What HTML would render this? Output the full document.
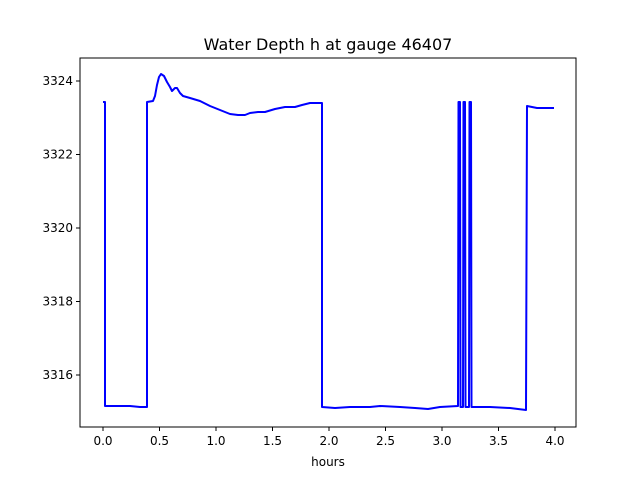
<!DOCTYPE html>
<html><head><meta charset="utf-8"><style>body{margin:0;background:#fff}</style></head><body>
<svg width="640" height="480" xmlns="http://www.w3.org/2000/svg" font-family="DejaVu Sans, Liberation Sans, sans-serif">
<rect width="640" height="480" fill="#fff"/>
<text x="328" y="50" font-size="16" text-anchor="middle">Water Depth h at gauge 46407</text>
<polyline fill="none" stroke="#0000ff" stroke-width="2" stroke-linejoin="round" points="103,102 105,102 105,406 130,406 140,407 147,407 147,102 153,101 155,96 157,85 159,77 161,74 164,76 167,82 170,87 172,91 175,88 177,88 180,93 183,96 190,98 200,101 210,106 220,110 230,114 238,115 245,115 250,113 258,112 265,112 275,109 285,107 295,107 302,105 310,103 318,103 322,103 322,407 335,408 350,407 370,407 380,406 400,407 415,408 428,409 440,407 458,406 458.5,102 460,102 460.5,407 463,407 463.5,102 465,102 465.5,407 469,407 469.5,102 471,102 471.5,407 490,407 510,408 526,410 527,106 537,108 554,108"/>
<rect x="80" y="58" width="496" height="369" fill="none" stroke="#000" stroke-width="1"/>
<g stroke="#000" stroke-width="1">
<line x1="103" y1="427" x2="103" y2="431"/><line x1="159.5" y1="427" x2="159.5" y2="431"/><line x1="216" y1="427" x2="216" y2="431"/><line x1="272.5" y1="427" x2="272.5" y2="431"/><line x1="329" y1="427" x2="329" y2="431"/><line x1="385.5" y1="427" x2="385.5" y2="431"/><line x1="442" y1="427" x2="442" y2="431"/><line x1="498.5" y1="427" x2="498.5" y2="431"/><line x1="555" y1="427" x2="555" y2="431"/>
<line x1="76" y1="81" x2="80" y2="81"/><line x1="76" y1="154.5" x2="80" y2="154.5"/><line x1="76" y1="228" x2="80" y2="228"/><line x1="76" y1="301.5" x2="80" y2="301.5"/><line x1="76" y1="375" x2="80" y2="375"/>
</g>
<g font-size="12" text-anchor="middle">
<text x="103" y="445">0.0</text><text x="159.5" y="445">0.5</text><text x="216" y="445">1.0</text><text x="272.5" y="445">1.5</text><text x="329" y="445">2.0</text><text x="385.5" y="445">2.5</text><text x="442" y="445">3.0</text><text x="498.5" y="445">3.5</text><text x="555" y="445">4.0</text>
<text x="328" y="466">hours</text>
</g>
<g font-size="12" text-anchor="end">
<text x="73" y="85">3324</text><text x="73" y="158.5">3322</text><text x="73" y="232">3320</text><text x="73" y="305.5">3318</text><text x="73" y="379">3316</text>
</g>
</svg>
</body></html>
